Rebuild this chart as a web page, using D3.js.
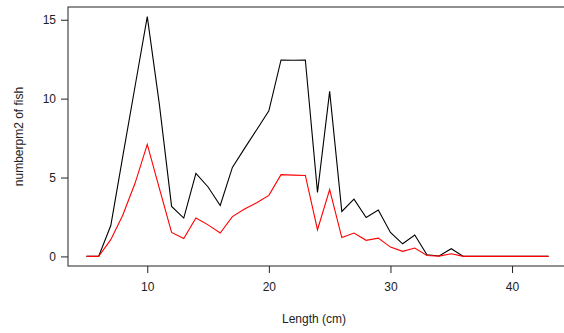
<!DOCTYPE html>
<html>
<head>
<meta charset="utf-8">
<script src="https://cdn.jsdelivr.net/npm/d3@7"></script>
<style>
  body { margin: 0; background: #fff; }
  svg { display: block; font-family: "Liberation Sans", Arial, sans-serif; }
</style>
</head>
<body>
<div id="chart"></div>
<script>
// length classes (cm) and the two series
var lengths = d3.range(5, 44);
var total = [0, 0, 1.96, 6.4, 10.8, 15.2, 9.6, 3.17, 2.43, 5.26, 4.4, 3.23, 5.64, 6.85, 8.03, 9.23,
  12.45, 12.43, 12.45, 4.06, 10.46, 2.85, 3.63, 2.47, 2.94, 1.52, 0.8, 1.36, 0.1, 0.03, 0.49,
  0, 0, 0, 0, 0, 0, 0, 0];
var part = [0, 0, 1.06, 2.64, 4.65, 7.1, 4.3, 1.52, 1.14, 2.43, 2.0, 1.48, 2.52, 3.0, 3.4, 3.87,
  5.18, 5.15, 5.13, 1.69, 4.23, 1.19, 1.48, 1.02, 1.16, 0.59, 0.32, 0.53, 0.06, 0.02, 0.17,
  0, 0, 0, 0, 0, 0, 0, 0];
var xTicks = [10, 20, 30, 40];
var yTicks = [0, 5, 10, 15];

var W = 564, H = 333,
    box = { left: 68, top: 7, right: 567, bottom: 266 };

var svg = d3.select("#chart").append("svg")
  .attr("width", W).attr("height", H);

// R style 4% padding on both axes
var x = d3.scaleLinear().domain([3.48, 44.52]).range([box.left, box.right]);
var y = d3.scaleLinear().domain([-0.608, 15.808]).range([box.bottom, box.top]);

function series(vals, colour) {
  var line = d3.line()
    .x(function(d, i) { return x(lengths[i]); })
    .y(function(d) { return y(d); });
  svg.append("path")
    .datum(vals)
    .attr("d", line)
    .attr("fill", "none")
    .attr("stroke", colour)
    .attr("stroke-width", 1.1);
}

series(total, "#000");
series(part, "#ff0000");

svg.append("rect")
  .attr("x", box.left).attr("y", box.top)
  .attr("width", box.right - box.left).attr("height", box.bottom - box.top)
  .attr("fill", "none").attr("stroke", "#222").attr("stroke-width", 1);

var xAxis = svg.append("g")
  .attr("transform", "translate(0," + box.bottom + ")")
  .call(d3.axisBottom(x).tickValues(xTicks).tickSize(7).tickPadding(9).tickSizeOuter(0));

var yAxis = svg.append("g")
  .attr("transform", "translate(" + box.left + ",0)")
  .call(d3.axisLeft(y).tickValues(yTicks).tickSize(7).tickPadding(5).tickSizeOuter(0));

[xAxis, yAxis].forEach(function(a) {
  a.select(".domain").remove();
  a.selectAll(".tick line").attr("stroke", "#222");
  a.selectAll("text")
    .attr("fill", "#222")
    .style("font-size", "12px")
    .style("font-family", "'Liberation Sans', Arial, sans-serif");
});

svg.append("text")
  .attr("x", (box.left + 564) / 2 - 2).attr("y", 323)
  .attr("text-anchor", "middle")
  .attr("fill", "#222")
  .style("font-size", "12px")
  .text("Length (cm)");

svg.append("text")
  .attr("transform", "translate(23," + (box.top + box.bottom) / 2 + ") rotate(-90)")
  .attr("text-anchor", "middle")
  .attr("fill", "#222")
  .style("font-size", "12px")
  .text("numberpm2 of fish");
</script>
</body>
</html>
